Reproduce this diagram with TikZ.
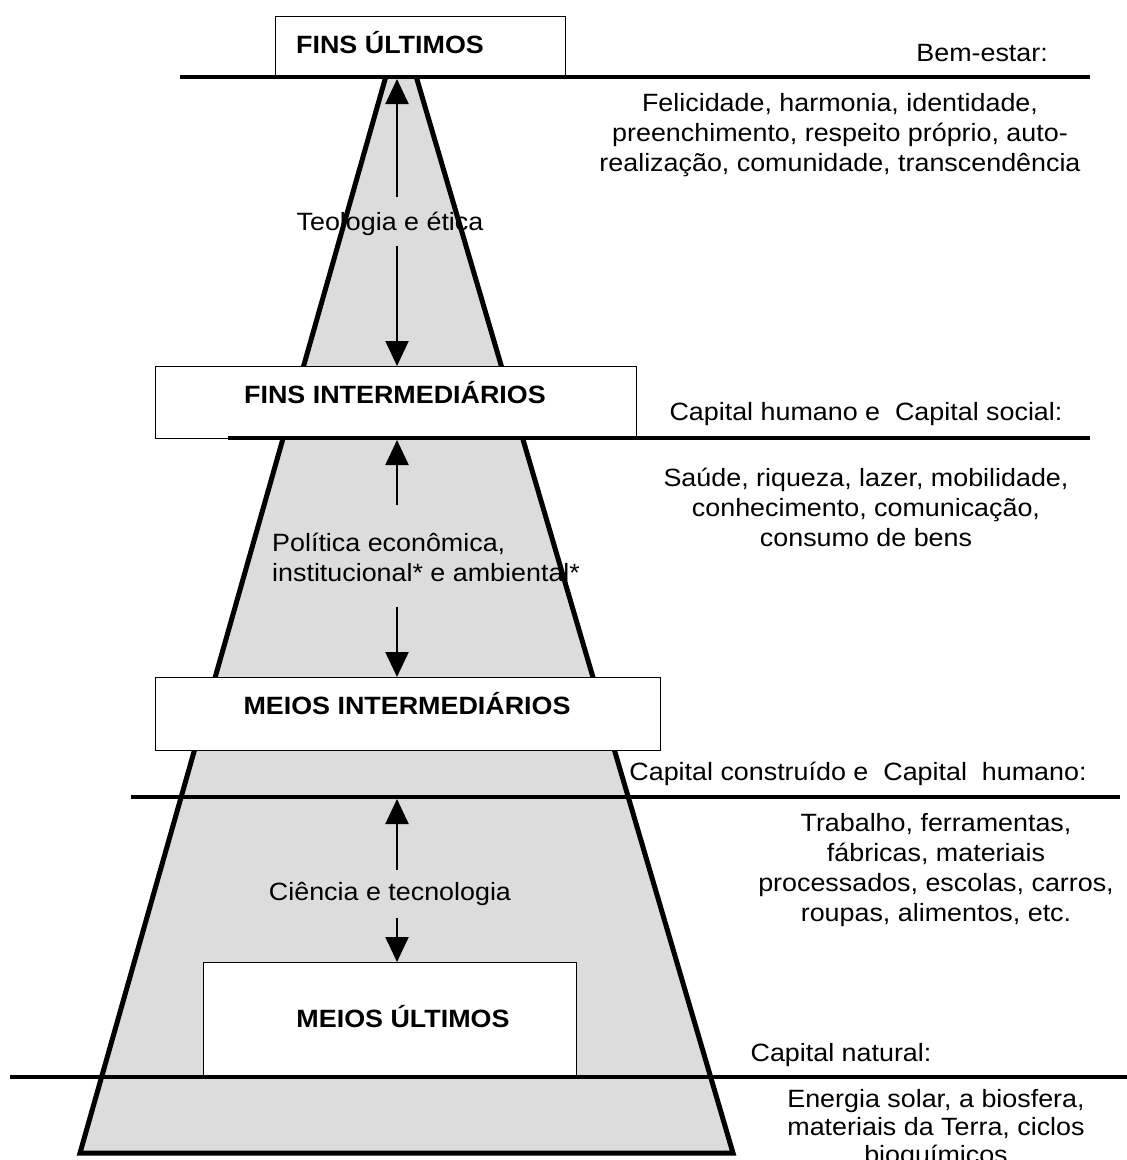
\documentclass[tikz,border=0pt]{standalone}
\usepackage{fontspec}
\setmainfont[FakeStretch=1.075]{Liberation Sans}
\usetikzlibrary{arrows.meta}
\definecolor{pyrgray}{RGB}{220,220,220}

\begin{document}
\begin{tikzpicture}[x=1pt,y=-1pt,
  every node/.style={inner sep=0pt, font=\fontsize{25}{30}\selectfont},
  level/.style={draw=black, line width=1.3pt, fill=white, anchor=north west},
  levelname/.style={font=\fontsize{25}{30}\selectfont\bfseries},
  divider/.style={line width=4pt},
  edge/.style={line width=5pt, line join=miter},
  flow/.style={line width=2.2pt, -{Triangle[width=23pt,length=25pt]}},
  note/.style={align=center},
]
\useasboundingbox (0,0) rectangle (1127,1160);

% the pyramid body
\fill[pyrgray] (386,76) -- (416,76) -- (733,1153) -- (80,1153) -- cycle;

% labels of the links between levels
\node (teo) at (390,224) {Teologia e ética};
\node[align=left, anchor=west] (pol) at (272,557) {Política econômica,\\institucional* e ambiental*};
\node (cie) at (390,894) {Ciência e tecnologia};

% pyramid outline
\draw[edge] (386,76) -- (80,1153) -- (733,1153) -- (416,76);

% level boxes
\node[level, minimum width=290pt, minimum height=61pt] (fu) at (275,16) {};
\node[level, minimum width=481pt, minimum height=72pt] (fi) at (155,366) {};
\node[level, minimum width=505pt, minimum height=73pt] (mi) at (155,677) {};
\node[level, minimum width=373pt, minimum height=115pt] (mu) at (203,962) {};

\node[levelname] (fut) at (390,43) {FINS ÚLTIMOS};
\node[levelname] (fit) at (395,393) {FINS INTERMEDIÁRIOS};
\node[levelname] (mit) at (407,704) {MEIOS INTERMEDIÁRIOS};
\node[levelname] (mut) at (403,1017) {MEIOS ÚLTIMOS};

% dividing lines
\draw[divider] (180,77) -- (1090,77);
\draw[divider] (228,438) -- (1090,438);
\draw[divider] (131,797) -- (1120,797);
\draw[divider] (10,1077) -- (1127,1077);

% two-way links
\coordinate (ax) at (397,0);
\coordinate (a1u) at (397,197);
\coordinate (a1d) at (397,246);
\coordinate (a2u) at (397,505);
\coordinate (a2d) at (397,607);
\coordinate (a3u) at (397,870);
\coordinate (a3d) at (397,918);
\coordinate (top1) at (397,79);
\coordinate (top2) at (397,440);
\coordinate (top3) at (397,799);

\draw[flow] (a1u) -- (top1);
\draw[flow] (a1d) -- (fi.north -| ax);
\draw[flow] (a2u) -- (top2);
\draw[flow] (a2d) -- (mi.north -| ax);
\draw[flow] (a3u) -- (top3);
\draw[flow] (a3d) -- (mu.north -| ax);

% capital descriptions
\node[anchor=east] (be) at (1048,53) {Bem-estar:};
\node[note] (bel) at (840,135) {Felicidade, harmonia, identidade,\\preenchimento, respeito próprio, auto-\\realização, comunidade, transcendência};
\node (chs) at (866,414) {Capital humano e\ \ Capital social:};
\node[note] (hsl) at (866,507) {Saúde, riqueza, lazer, mobilidade,\\conhecimento, comunicação,\\consumo de bens};
\node (cch) at (858,774) {Capital construído e\ \ Capital\ \ humano:};
\node[note] (chl) at (936,870) {Trabalho, ferramentas,\\fábricas, materiais\\processados, escolas, carros,\\roupas, alimentos, etc.};
\node (cn) at (841,1055) {Capital natural:};
\node[note, font=\fontsize{25}{28}\selectfont] (cnl) at (936,1129) {Energia solar, a biosfera,\\materiais da Terra, ciclos\\bioquímicos};
\end{tikzpicture}
\end{document}
